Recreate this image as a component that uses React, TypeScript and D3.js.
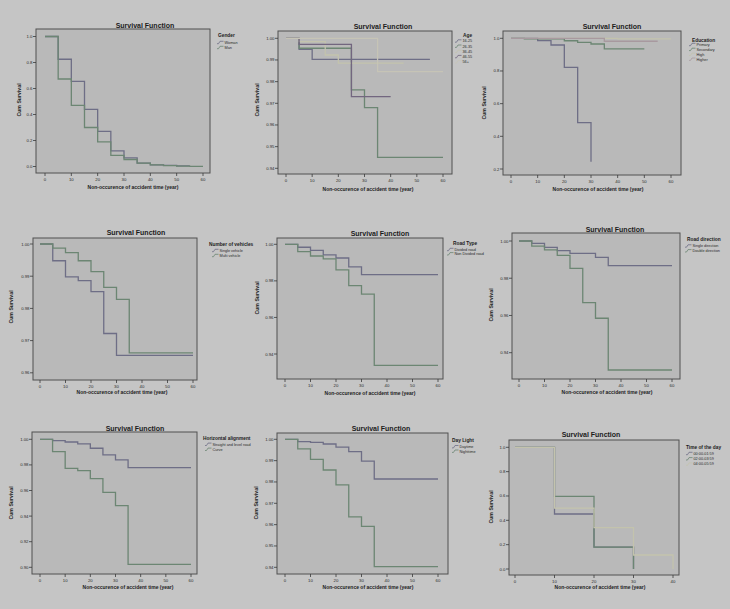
import React from "react";
import * as d3 from "d3";

type Pt = [number, number];

// ---------- Data ----------
// Gender
const genderWoman: Pt[] = [[0, 1], [5, 0.825], [10, 0.655], [15, 0.44], [20, 0.27], [25, 0.12], [30, 0.067], [35, 0.026], [40, 0.013], [45, 0.008], [50, 0.005]];
const genderMan: Pt[] = [[0, 1], [5, 0.673], [10, 0.47], [15, 0.3], [20, 0.19], [25, 0.085], [30, 0.054], [35, 0.026], [40, 0.012], [45, 0.006], [50, 0.003], [55, 0.001]];
// Age
const age16: Pt[] = [[0, 1], [5, 0.9949], [10, 0.9903]];
const age26: Pt[] = [[0, 1], [5, 0.9954], [25, 0.9762], [30, 0.968], [35, 0.945]];
const age36: Pt[] = [[0, 1], [5, 0.9985], [15, 0.9923], [20, 0.9885]];
const age46: Pt[] = [[0, 1], [5, 0.9972], [25, 0.9731]];
const age56: Pt[] = [[0, 1], [35, 0.9846]];
// Education
const eduPrimary: Pt[] = [[0, 1], [10, 0.986], [15, 0.959], [20, 0.822], [25, 0.484], [30, 0.245]];
const eduSecondary: Pt[] = [[0, 1], [5, 0.996], [20, 0.985], [25, 0.975], [30, 0.965], [35, 0.935]];
const eduHigh: Pt[] = [[0, 1], [40, 0.996]];
const eduHigher: Pt[] = [[0, 1], [35, 0.982]];
// Number of vehicles
const vehSingle: Pt[] = [[0, 1], [5, 0.9948], [10, 0.9898], [15, 0.9886], [20, 0.9852], [25, 0.9722], [30, 0.9654]];
const vehMulti: Pt[] = [[0, 1], [5, 0.9987], [10, 0.9973], [15, 0.9948], [20, 0.9914], [25, 0.9865], [30, 0.9828], [35, 0.9662]];
// Road type
const roadDivided: Pt[] = [[0, 1], [5, 0.9984], [10, 0.9967], [15, 0.9942], [20, 0.9925], [25, 0.9876], [30, 0.9834]];
const roadNonDivided: Pt[] = [[0, 1], [5, 0.996], [10, 0.9936], [15, 0.992], [20, 0.986], [25, 0.9774], [30, 0.9728], [35, 0.9338]];
// Road direction
const dirSingle: Pt[] = [[0, 1], [5, 0.9987], [10, 0.9966], [15, 0.9948], [20, 0.9934], [30, 0.9912], [35, 0.9868]];
const dirDouble: Pt[] = [[0, 1], [5, 0.9973], [10, 0.9952], [15, 0.9923], [20, 0.9853], [25, 0.9669], [30, 0.9585], [35, 0.9307]];
// Horizontal alignment
const alignStraight: Pt[] = [[0, 1], [5, 0.999], [10, 0.9979], [15, 0.9964], [20, 0.993], [25, 0.9878], [30, 0.9839], [35, 0.9779]];
const alignCurve: Pt[] = [[0, 1], [5, 0.9904], [10, 0.9773], [15, 0.9755], [20, 0.9693], [25, 0.9586], [30, 0.9482], [35, 0.9023]];
// Day light
const lightDay: Pt[] = [[0, 1], [5, 0.9989], [10, 0.9986], [15, 0.9978], [20, 0.9963], [25, 0.9942], [30, 0.9898], [35, 0.9814]];
const lightNight: Pt[] = [[0, 1], [5, 0.9955], [10, 0.9906], [15, 0.9856], [20, 0.9786], [25, 0.9636], [30, 0.9592], [35, 0.9403]];
// Time of the day
const tod00: Pt[] = [[0, 1], [10, 0.452], [20, 0.18], [30, 0]];
const tod02: Pt[] = [[0, 1], [10, 0.597], [20, 0.18], [30, 0]];
const tod04: Pt[] = [[0, 1], [10, 0.5], [20, 0.34], [30, 0.115], [40, 0]];

// Tick labels
const xTicks60 = [0, 10, 20, 30, 40, 50, 60];
const xTicks40 = [0, 10, 20, 30, 40];
const yTicksUnit = [0, 0.2, 0.4, 0.6, 0.8, 1.0];
const yTicksEdu = [0.2, 0.4, 0.6, 0.8, 1.0];
const yTicks94by1 = [0.94, 0.95, 0.96, 0.97, 0.98, 0.99, 1.0];
const yTicks96by1 = [0.96, 0.97, 0.98, 0.99, 1.0];
const yTicks94by2 = [0.94, 0.96, 0.98, 1.0];
const yTicks90by2 = [0.9, 0.92, 0.94, 0.96, 0.98, 1.0];

const legendTitles = ["Gender", "Age", "Education", "Number of vehicles", "Road Type", "Road direction", "Horizontal alignment", "Day Light", "Time of the day"];

// ---------- Styles ----------
const PURPLE = "#6e6e86";
const GREEN = "#6c8673";
const PURPLE2 = "#72667f";
const LIGHT = "#c3c3ad";
const LIGHT2 = "#c6c4b6";
const PINK = "#a8999f";
const FONT = "'Liberation Sans', Arial, sans-serif";

type Series = { name: string; pts: Pt[]; end: number; color: string };
type Panel = {
  series: Series[];
  xTicks: number[]; yTicks: number[]; yFmt: string;
  frame: [number, number, number, number];
  xr: [number, number]; yr: [number, number];
  title: [number, number]; xlab: [number, number]; ylab: [number, number];
  leg: [number, number, number, number, number]; // titleX, titleY, glyphX, firstItemY, spacing
};

const panels: Panel[] = [
  {
    series: [
      { name: "Woman", pts: genderWoman, end: 55, color: PURPLE },
      { name: "Man", pts: genderMan, end: 60, color: GREEN },
    ],
    xTicks: xTicks60, yTicks: yTicksUnit, yFmt: ".1f",
    frame: [36, 29, 210, 173], xr: [45, 203], yr: [36.5, 166.5],
    title: [145, 27.5], xlab: [133, 189], ylab: [21, 100],
    leg: [218, 37, 217, 42.5, 5],
  },
  {
    series: [
      { name: "16-25", pts: age16, end: 55, color: PURPLE },
      { name: "26-35", pts: age26, end: 60, color: GREEN },
      { name: "36-45", pts: age36, end: 45, color: LIGHT },
      { name: "46-55", pts: age46, end: 40, color: PURPLE2 },
      { name: "56+", pts: age56, end: 60, color: LIGHT2 },
    ],
    xTicks: xTicks60, yTicks: yTicks94by1, yFmt: ".2f",
    frame: [278, 31, 452, 174], xr: [286, 443], yr: [38.3, 168.3],
    title: [383, 28.5], xlab: [368, 190.5], ylab: [259, 100],
    leg: [463, 36.5, 455, 41, 5.2],
  },
  {
    series: [
      { name: "Primary", pts: eduPrimary, end: 30, color: PURPLE },
      { name: "Secondary", pts: eduSecondary, end: 50, color: GREEN },
      { name: "High", pts: eduHigh, end: 60, color: LIGHT },
      { name: "Higher", pts: eduHigher, end: 55, color: PINK },
    ],
    xTicks: xTicks60, yTicks: yTicksEdu, yFmt: ".1f",
    frame: [503, 31, 681, 175], xr: [511, 671], yr: [38.3, 169],
    title: [612, 28.5], xlab: [598, 190.5], ylab: [486, 103],
    leg: [692, 41.5, 689, 44.5, 4.9],
  },
  {
    series: [
      { name: "Single vehicle", pts: vehSingle, end: 60, color: PURPLE },
      { name: "Multi vehicle", pts: vehMulti, end: 60, color: GREEN },
    ],
    xTicks: xTicks60, yTicks: yTicks96by1, yFmt: ".2f",
    frame: [33, 238, 197, 380], xr: [40, 193], yr: [244, 372.8],
    title: [136, 234.5], xlab: [122, 393.5], ylab: [13, 307],
    leg: [209, 245.5, 212, 250.5, 5],
  },
  {
    series: [
      { name: "Divided road", pts: roadDivided, end: 60, color: PURPLE },
      { name: "Non Divided road", pts: roadNonDivided, end: 60, color: GREEN },
    ],
    xTicks: xTicks60, yTicks: yTicks94by2, yFmt: ".2f",
    frame: [277, 238, 443, 379], xr: [285, 438], yr: [244.3, 354],
    title: [380, 235.5], xlab: [370, 394.5], ylab: [259, 298],
    leg: [453, 244.5, 447, 249.5, 4.3],
  },
  {
    series: [
      { name: "Single direction", pts: dirSingle, end: 60, color: PURPLE },
      { name: "Double direction", pts: dirDouble, end: 60, color: GREEN },
    ],
    xTicks: xTicks60, yTicks: yTicks94by2, yFmt: ".2f",
    frame: [512, 233, 680, 379], xr: [519, 672], yr: [241, 352.7],
    title: [615, 231.5], xlab: [607, 393.5], ylab: [493, 305],
    leg: [687, 240.5, 685, 246, 4.8],
  },
  {
    series: [
      { name: "Straight and level road", pts: alignStraight, end: 60, color: PURPLE },
      { name: "Curve", pts: alignCurve, end: 60, color: GREEN },
    ],
    xTicks: xTicks60, yTicks: yTicks90by2, yFmt: ".2f",
    frame: [32, 432, 197, 574], xr: [40, 191], yr: [439.3, 567.3],
    title: [135, 430.5], xlab: [128, 588.5], ylab: [13, 503],
    leg: [203, 439.5, 205, 444.3, 5],
  },
  {
    series: [
      { name: "Daytime", pts: lightDay, end: 60, color: PURPLE },
      { name: "Nighttime", pts: lightNight, end: 60, color: GREEN },
    ],
    xTicks: xTicks60, yTicks: yTicks94by1, yFmt: ".2f",
    frame: [277, 433, 448, 574], xr: [285, 438], yr: [439.3, 567.3],
    title: [381, 430.5], xlab: [368, 588.5], ylab: [258, 503],
    leg: [452, 441.5, 452, 446.7, 4.5],
  },
  {
    series: [
      { name: "00:00-01:59", pts: tod00, end: 30, color: PURPLE },
      { name: "02:00-03:59", pts: tod02, end: 30, color: GREEN },
      { name: "04:00-05:59", pts: tod04, end: 40, color: LIGHT },
    ],
    xTicks: xTicks40, yTicks: yTicksUnit, yFmt: ".1f",
    frame: [509, 440, 679, 575], xr: [515, 673], yr: [447.3, 569],
    title: [591, 436.5], xlab: [600, 588.5], ylab: [493, 507],
    leg: [686, 448.5, 686, 453.5, 5.3],
  },
];

function SurvivalPanel({ p, legendTitle }: { p: Panel; legendTitle: string }) {
  const [fl, ft, fr, fb] = p.frame;
  const xDom = [p.xTicks[0], p.xTicks[p.xTicks.length - 1]];
  const yDom = [p.yTicks[p.yTicks.length - 1], p.yTicks[0]];
  const x = d3.scaleLinear().domain(xDom).range(p.xr);
  const y = d3.scaleLinear().domain(yDom).range(p.yr);
  const fmt = d3.format(p.yFmt);
  const line = d3
    .line<Pt>()
    .x((d) => x(d[0]))
    .y((d) => y(d[1]))
    .curve(d3.curveStepAfter);
  const [ltx, lty, lgx, liy, lsp] = p.leg;
  return (
    <g>
      <rect x={fl} y={ft} width={fr - fl} height={fb - ft} fill="#b9b9b9" stroke="#505050" strokeWidth={1} />
      <text x={p.title[0]} y={p.title[1]} textAnchor="middle" fontSize={7} fontWeight="bold" fill="#1c1c1c">
        Survival Function
      </text>
      {p.yTicks.map((t) => (
        <g key={"y" + t}>
          <line x1={fl - 3} x2={fl} y1={y(t)} y2={y(t)} stroke="#3a3a3a" strokeWidth={0.8} />
          <text x={fl - 3.5} y={y(t) + 1.5} textAnchor="end" fontSize={4.3} fill="#2a2a2a">
            {fmt(t)}
          </text>
        </g>
      ))}
      {p.xTicks.map((t) => (
        <g key={"x" + t}>
          <line x1={x(t)} x2={x(t)} y1={fb} y2={fb + 3} stroke="#3a3a3a" strokeWidth={0.8} />
          <text x={x(t)} y={fb + 8} textAnchor="middle" fontSize={4.3} fill="#2a2a2a">
            {t}
          </text>
        </g>
      ))}
      <text x={p.xlab[0]} y={p.xlab[1]} textAnchor="middle" fontSize={5} fontWeight="bold" fill="#1c1c1c">
        Non-occurence of accident time (year)
      </text>
      <text
        transform={`translate(${p.ylab[0]},${p.ylab[1]}) rotate(-90)`}
        textAnchor="middle"
        fontSize={5.2}
        fontWeight="bold"
        fill="#1c1c1c"
      >
        Cum Survival
      </text>
      {p.series.map((s) => {
        const pts: Pt[] = [...s.pts, [s.end, s.pts[s.pts.length - 1][1]]];
        return <path key={s.name} d={line(pts) || ""} fill="none" stroke={s.color} strokeWidth={1.3} />;
      })}
      <text x={ltx} y={lty} fontSize={4.8} fontWeight="bold" fill="#1c1c1c">
        {legendTitle}
      </text>
      {p.series.map((s, i) => {
        const yy = liy + i * lsp;
        return (
          <g key={"l" + s.name}>
            <path d={`M${lgx},${yy + 1.2} h1.5 l1.5,-2.4 h3.5`} fill="none" stroke={s.color} strokeWidth={0.8} />
            <text x={lgx + 7.5} y={yy + 1.3} fontSize={3.8} fill="#2a2a2a">
              {s.name}
            </text>
          </g>
        );
      })}
    </g>
  );
}

export default function App() {
  return (
    <svg
      width={730}
      height={609}
      style={{ position: "absolute", left: 0, top: 0, fontFamily: FONT }}
    >
      <rect x={0} y={0} width={730} height={609} fill="#c5c5c5" />
      {panels.map((p, i) => (
        <SurvivalPanel key={i} p={p} legendTitle={legendTitles[i]} />
      ))}
    </svg>
  );
}
